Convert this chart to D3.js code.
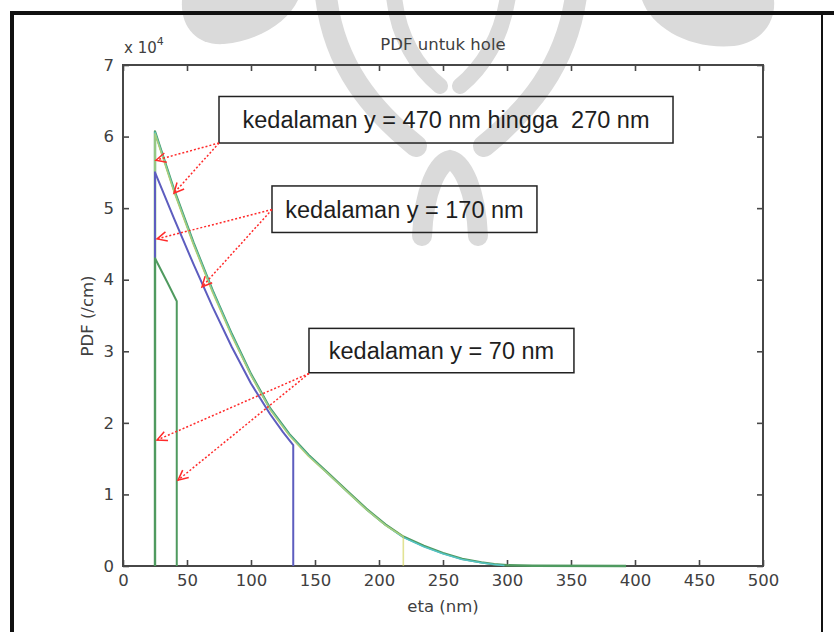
<!DOCTYPE html>
<html>
<head>
<meta charset="utf-8">
<script src="https://cdn.jsdelivr.net/npm/d3@7/dist/d3.min.js"></script>
<style>
  body { margin: 0; background: #fff; }
  svg { display: block; }
  text { font-family: "DejaVu Sans", Arial, sans-serif; white-space: pre; }
  text.note { font-family: "Liberation Sans", Arial, sans-serif; }
</style>
</head>
<body>
<svg id="chart" width="834" height="632"></svg>
<script>
// PDF of holes versus eta, values in units of 10^4 /cm
const eta470 = [25, 25, 40, 55, 70, 85, 100, 115, 130, 145, 160, 175, 190, 205, 219, 235, 250, 265, 280, 290, 300, 320, 393];
const pdf470 = [0, 6.07, 5.25, 4.52, 3.85, 3.24, 2.68, 2.20, 1.84, 1.55, 1.30, 1.05, 0.80, 0.58, 0.41, 0.28, 0.18, 0.10, 0.05, 0.025, 0.01, 0.003, 0];

const eta370 = [25, 25, 40, 55, 70, 85, 100, 115, 130, 145, 160, 175, 190, 205, 219, 235, 250, 265, 280, 290, 298];
const pdf370 = [0, 6.06, 5.24, 4.51, 3.84, 3.23, 2.67, 2.19, 1.83, 1.54, 1.29, 1.04, 0.79, 0.57, 0.40, 0.27, 0.17, 0.09, 0.045, 0.02, 0.008];

const eta270 = [25, 25, 40, 55, 70, 85, 100, 115, 130, 145, 160, 175, 190, 205, 219, 219];
const pdf270 = [0, 6.04, 5.22, 4.49, 3.82, 3.21, 2.66, 2.18, 1.82, 1.53, 1.29, 1.04, 0.79, 0.57, 0.41, 0];

const eta170 = [25, 25, 40, 55, 70, 85, 100, 115, 125, 133, 133];
const pdf170 = [0, 5.50, 4.85, 4.22, 3.62, 3.06, 2.55, 2.12, 1.87, 1.69, 0];

const eta70 = [25, 25, 35, 42, 42];
const pdf70 = [0, 4.30, 3.95, 3.70, 0];

const xTicks = [0, 50, 100, 150, 200, 250, 300, 350, 400, 450, 500];
const yTicks = [0, 1, 2, 3, 4, 5, 6, 7];

const titleText = "PDF untuk hole";
const xLabel = "eta (nm)";
const yLabel = "PDF (/cm)";

// callout boxes (data coordinates) and the points their arrows indicate
const notes = [
  { text: "kedalaman y = 470 nm hingga  270 nm", x0: 75, x1: 429.7, yTop: 6.56, yBot: 5.91,
    from: [75, 5.91], tips: [[25.8, 5.67], [39.8, 5.21]] },
  { text: "kedalaman y = 170 nm", x0: 116.4, x1: 323.4, yTop: 5.31, yBot: 4.66,
    from: [116.4, 4.98], tips: [[26.6, 4.57], [61.7, 3.90]] },
  { text: "kedalaman y = 70 nm", x0: 145.3, x1: 352.3, yTop: 3.32, yBot: 2.70,
    from: [145.3, 2.69], tips: [[26.6, 1.76], [43, 1.20]] }
];

const svg = d3.select("#chart");

// faint emblem behind the figure
const markColor = "#dadada";
const mark = svg.append("g").attr("fill", markColor).attr("stroke", markColor);
mark.append("path").attr("stroke", "none")
  .attr("d", "M182,0 C180,28 198,46 224,44 C258,41 288,22 298,0 Z");
mark.append("path").attr("stroke", "none")
  .attr("d", "M642,0 C652,28 690,50 734,46 C762,42 776,22 774,0 Z");
mark.append("path").attr("fill", "none").attr("stroke-width", 22).attr("stroke-linecap", "round")
  .attr("d", "M326,-4 C334,66 372,110 416,146");
mark.append("path").attr("fill", "none").attr("stroke-width", 22).attr("stroke-linecap", "round")
  .attr("d", "M576,-4 C566,66 528,110 484,146");
mark.append("path").attr("fill", "none").attr("stroke-width", 16).attr("stroke-linecap", "round")
  .attr("d", "M394,-4 C398,38 418,68 440,86");
mark.append("path").attr("fill", "none").attr("stroke-width", 16).attr("stroke-linecap", "round")
  .attr("d", "M508,-4 C502,38 482,68 460,86");
mark.append("path").attr("fill", "none").attr("stroke-width", 20).attr("stroke-linecap", "round")
  .attr("d", "M422,236 C424,190 438,162 450,160 C462,162 476,190 478,236");

// page frame
const frame = svg.append("g").attr("stroke", "#111").attr("fill", "none");
frame.append("line").attr("x1", 10).attr("x2", 834).attr("y1", 13).attr("y2", 13).attr("stroke-width", 4);
frame.append("line").attr("x1", 12).attr("x2", 12).attr("y1", 11).attr("y2", 632).attr("stroke-width", 4);
frame.append("line").attr("x1", 822).attr("x2", 822).attr("y1", 11).attr("y2", 632).attr("stroke-width", 2);

const x = d3.scaleLinear().domain([0, 500]).range([123, 763]);
const y = d3.scaleLinear().domain([0, 7]).range([566, 65]);

const axisColor = "#474747";
function styleAxis(g) {
  g.select(".domain").remove();
  g.selectAll(".tick line").attr("stroke", axisColor).attr("stroke-width", 1.6);
  g.selectAll(".tick text").attr("fill", "#404040").attr("font-size", 16.5);
}

svg.append("g").attr("transform", `translate(0,${y(0)})`)
  .call(d3.axisBottom(x).tickValues(xTicks).tickSizeInner(-6).tickSizeOuter(0).tickPadding(8).tickFormat(d3.format("d")))
  .call(styleAxis);
svg.append("g").attr("transform", `translate(0,${y(7)})`)
  .call(d3.axisTop(x).tickValues(xTicks).tickSizeInner(-6).tickSizeOuter(0).tickFormat(""))
  .call(styleAxis);
svg.append("g").attr("transform", `translate(${x(0)},0)`)
  .call(d3.axisLeft(y).tickValues(yTicks).tickSizeInner(-6).tickSizeOuter(0).tickPadding(9).tickFormat(d3.format("d")))
  .call(styleAxis);
svg.append("g").attr("transform", `translate(${x(500)},0)`)
  .call(d3.axisRight(y).tickValues(yTicks).tickSizeInner(-6).tickSizeOuter(0).tickFormat(""))
  .call(styleAxis);

// axes box
svg.append("rect")
  .attr("x", x(0)).attr("y", y(7))
  .attr("width", x(500) - x(0)).attr("height", y(0) - y(7))
  .attr("fill", "none").attr("stroke", axisColor).attr("stroke-width", 2);

// curves
const line = d3.line().x(d => x(d[0])).y(d => y(d[1]));
const series = [
  { eta: eta470, pdf: pdf470, color: "#4f9a60", width: 2.4, opacity: 1 },
  { eta: eta370, pdf: pdf370, color: "#55c3c6", width: 1.6, opacity: 1 },
  { eta: eta270, pdf: pdf270, color: "#d3d45a", width: 1.6, opacity: 0.65 },
  { eta: eta170, pdf: pdf170, color: "#5d5dbf", width: 2, opacity: 1 },
  { eta: eta70, pdf: pdf70, color: "#4f9a5f", width: 2, opacity: 1 }
];
svg.append("g").selectAll("path").data(series).join("path")
  .attr("d", s => line(d3.zip(s.eta, s.pdf)))
  .attr("fill", "none")
  .attr("stroke", s => s.color)
  .attr("stroke-width", s => s.width)
  .attr("stroke-opacity", s => s.opacity)
  .attr("stroke-linejoin", "round");

// titles
svg.append("text").attr("x", 443).attr("y", 50).attr("text-anchor", "middle")
  .attr("font-size", 16.5).attr("fill", "#404040").text(titleText);
svg.append("text").attr("x", 443).attr("y", 612).attr("text-anchor", "middle")
  .attr("font-size", 16.5).attr("fill", "#404040").text(xLabel);
svg.append("text").attr("transform", "translate(93,316) rotate(-90)").attr("text-anchor", "middle")
  .attr("font-size", 16.5).attr("fill", "#404040").text(yLabel);

const exp = svg.append("text").attr("x", 124).attr("y", 53).attr("font-size", 15).attr("fill", "#404040");
exp.append("tspan").text("x 10");
exp.append("tspan").attr("dy", -8).attr("font-size", 11).text("4");

// callouts
const ann = svg.append("g");
notes.forEach(n => {
  ann.append("rect")
    .attr("x", x(n.x0)).attr("y", y(n.yTop))
    .attr("width", x(n.x1) - x(n.x0)).attr("height", y(n.yBot) - y(n.yTop))
    .attr("fill", "none").attr("stroke", "#222").attr("stroke-width", 1.5);
  ann.append("text").attr("class", "note")
    .attr("x", (x(n.x0) + x(n.x1)) / 2).attr("y", (y(n.yTop) + y(n.yBot)) / 2)
    .attr("dy", "0.36em").attr("text-anchor", "middle")
    .attr("font-size", 23.5).attr("fill", "#1e1e1e").text(n.text);
  const fx = x(n.from[0]), fy = y(n.from[1]);
  n.tips.forEach(t => {
    const tx = x(t[0]), ty = y(t[1]);
    ann.append("line").attr("x1", fx).attr("y1", fy).attr("x2", tx).attr("y2", ty)
      .attr("stroke", "#ff2a2a").attr("stroke-width", 1.5).attr("stroke-dasharray", "2,2");
    const a = Math.atan2(fy - ty, fx - tx), L = 11, w = 0.45;
    ann.append("path")
      .attr("d", `M${tx + L * Math.cos(a + w)},${ty + L * Math.sin(a + w)} L${tx},${ty} L${tx + L * Math.cos(a - w)},${ty + L * Math.sin(a - w)}`)
      .attr("fill", "none").attr("stroke", "#ff2a2a").attr("stroke-width", 1.5);
  });
});
</script>
</body>
</html>
